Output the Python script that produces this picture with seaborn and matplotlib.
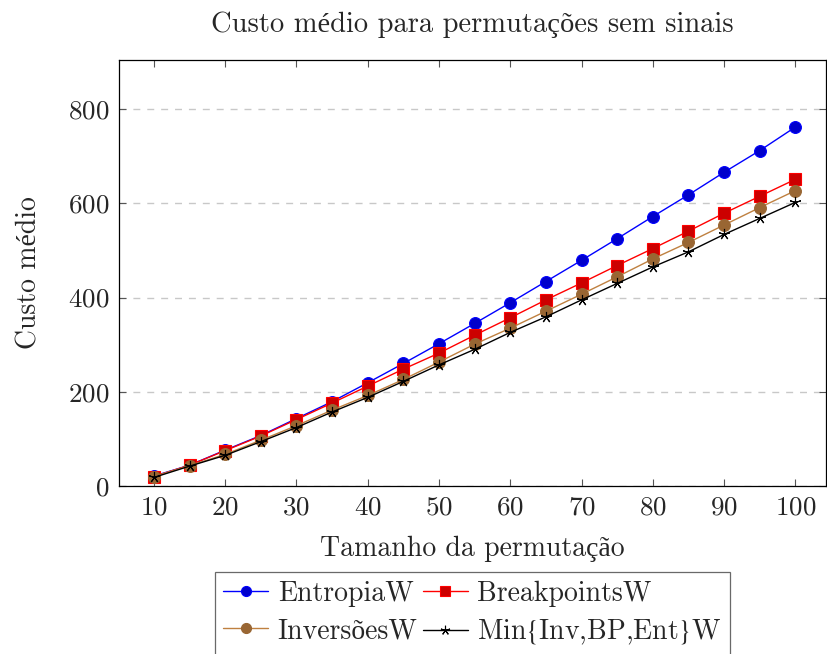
import matplotlib
matplotlib.use("Agg")
import matplotlib.pyplot as plt
import seaborn as sns
import pandas as pd
from matplotlib.lines import Line2D

sizes = [10, 15, 20, 25, 30, 35, 40, 45, 50, 55, 60, 65, 70, 75, 80, 85, 90, 95, 100]
entropia = [21, 44, 76, 107, 143, 179, 219, 260, 302, 345, 389, 434, 479, 525, 572, 618, 666, 712, 762]
breakpoints = [20, 44, 75, 106, 141, 176, 212, 248, 282, 320, 357, 395, 431, 468, 504, 541, 579, 615, 651]
inversoes = [20, 43, 67, 97, 128, 161, 192, 226, 263, 301, 335, 371, 407, 444, 482, 517, 554, 591, 627]
minimo = [18, 42, 65, 94, 124, 157, 188, 222, 257, 290, 326, 359, 395, 430, 465, 497, 534, 568, 602]

labels = ["EntropiaW", "BreakpointsW", "InversõesW", r"Min$\{$Inv,BP,Ent$\}$W"]
title = "Custo médio para permutações sem sinais"
xlabel = "Tamanho da permutação"
ylabel = "Custo médio"

sns.set_style("white")
plt.rcParams['font.family'] = ['cmr10', 'Liberation Serif']
plt.rcParams['mathtext.fontset'] = 'stix'
plt.rcParams['axes.formatter.use_mathtext'] = True
plt.rcParams['axes.unicode_minus'] = False

fig = plt.figure(figsize=(8.28, 6.54), dpi=100)
ax = fig.add_axes([0.1437, 0.257, 0.8539, 0.651])

styles = [
    dict(color=(0, 0, 1), marker='o', mfc=(0, 0, 0.8), mec=(0, 0, 1), ms=8.5),
    dict(color=(1, 0, 0), marker='s', mfc=(0.8, 0, 0), mec=(1, 0, 0), ms=8),
    dict(color=(0.75, 0.5, 0.25), marker='o', mfc=(0.6, 0.4, 0.2), mec=(0.6, 0.4, 0.2), ms=8.5),
    dict(color='black', marker=(5, 2, 0), mfc='black', mec='black', ms=8),
]
series = [entropia, breakpoints, inversoes, minimo]
handles = []
for lab, vals, st in zip(labels, series, styles):
    df = pd.DataFrame({"x": sizes, "y": vals})
    sns.lineplot(data=df, x="x", y="y", ax=ax, color=st['color'], lw=1.0,
                 marker=st['marker'], markersize=st['ms'], markerfacecolor=st['mfc'],
                 markeredgecolor=st['mec'], markeredgewidth=0.8, legend=False)
    handles.append(Line2D([], [], color=st['color'], lw=1.0, marker=st['marker'],
                          markersize=st['ms'] * 0.85, markerfacecolor=st['mfc'],
                          markeredgecolor=st['mec'], markeredgewidth=0.8))

ax.set_xlim(5.1, 104.3)
ax.set_ylim(0, 904)
ax.set_xticks(sizes[::2])
ax.set_yticks([0, 200, 400, 600, 800])
ax.yaxis.grid(True, color='#c8c8c8', linestyle=(0, (5, 5)), lw=1.0)
ax.xaxis.grid(False)
for s in ax.spines.values():
    s.set_color('black')
    s.set_linewidth(0.9)
ax.tick_params(axis='both', direction='in', length=5, width=0.8, color='#555555',
               labelsize=19.5, top=True, right=True, bottom=True, left=True, pad=7)
ax.set_title(title, fontsize=20.5, pad=20)
ax.set_xlabel(xlabel, fontsize=20, labelpad=12)
ax.set_ylabel(ylabel, fontsize=20, labelpad=18)

order = [0, 2, 1, 3]
leg = ax.legend([handles[i] for i in order], [labels[i] for i in order], ncol=2,
                loc='upper center', bbox_to_anchor=(0.5, -0.202), fontsize=20,
                frameon=True, fancybox=False, edgecolor='#444444', handlelength=1.6,
                handletextpad=0.35, columnspacing=0.2, labelspacing=0.4,
                borderpad=0.3, borderaxespad=0)
leg.get_frame().set_linewidth(0.9)

fig.savefig("out.png", dpi=100)
